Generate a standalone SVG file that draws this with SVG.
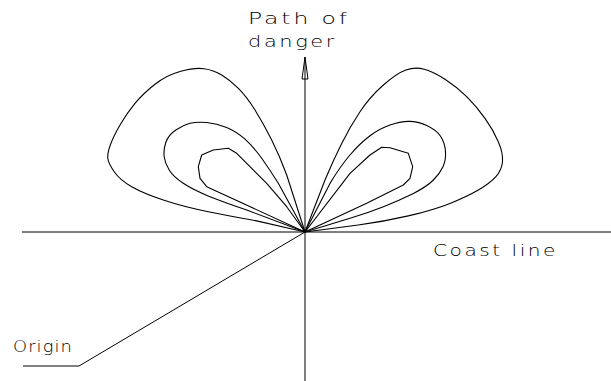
<svg xmlns="http://www.w3.org/2000/svg" width="611" height="381" viewBox="0 0 611 381">
<style>
.ln{fill:none;stroke:#000;stroke-width:1;stroke-linejoin:round;stroke-linecap:butt}
.lobe{fill:none;stroke:#000;stroke-width:1.1;stroke-linejoin:round}
.lbl{font-family:"DejaVu Sans","Liberation Sans",sans-serif;font-size:16px;fill:#000;font-weight:200;letter-spacing:2px}
</style>
<rect width="611" height="381" fill="#fff"/>
<g id="axes">
<line class="ln" x1="22" y1="232" x2="611" y2="232"/>
<line class="ln" x1="305" y1="57" x2="305" y2="381"/>
<polygon class="ln" points="305,57 302,79 308,79"/>
<polyline class="ln" points="305,232 79,366 23,366"/>
</g>
<g id="lobes-left">
<path class="lobe" d="M305,232 L256.7,220.9 Q233.3,216.7 208.3,211.7 Q183.3,206.7 163.3,200 Q143.3,193.3 131.7,186.7 Q120,180 114.2,171.7 Q108.3,163.3 107.8,158.3 Q107.3,153.3 110.3,145 Q113.3,136.7 120,125 Q126.7,113.3 135,103.3 Q143.3,93.3 155,84.2 Q166.7,75 180.9,71.2 Q195,67.3 204.2,68.7 Q213.3,70 221.7,75 Q230,80 238.4,88.4 Q246.7,96.7 255,110 Q263.3,123.3 271.7,140 Q280,156.7 286.7,175 L305,232"/>
<path class="lobe" d="M305,232 L246.7,210 Q226.7,203.3 210,196.7 Q193.3,190 183.3,183.3 Q173.3,176.7 169.2,170 Q165,163.3 164.2,156.7 Q163.3,150 165.8,142.5 Q168.3,135 175.8,130 Q183.3,125 190,123.3 Q196.7,121.7 206.7,122.5 Q216.7,123.3 226.7,127.5 Q236.7,131.7 245,139.2 Q253.3,146.7 261.7,158.3 Q270,170 278.3,183.3 L305,232"/>
<polyline class="lobe" points="305,232 206.7,186.7 200,178.3 198.3,166.7 201.7,155 213.3,150 228.3,148.3 236.7,153.3 250,166.7 266.7,183.3 286.7,206.7 305,232"/>
</g>
<g id="lobes-right">
<path class="lobe" d="M305,232 L325,180 Q333.3,160 341.7,143.4 Q350,126.7 360,111.7 Q370,96.7 383.4,85 Q396.7,73.3 405.9,70 Q415,66.7 424.2,69.2 Q433.3,71.7 445,79.2 Q456.7,86.7 466.7,96.7 Q476.7,106.7 485,118.4 Q493.3,130 498.3,141.7 Q503.3,153.3 502.5,161.7 Q501.7,170 495.9,176.7 Q490,183.3 478.4,190 Q466.7,196.7 450,203.4 Q433.3,210 408.3,215.9 Q383.3,221.7 358.3,225 L305,232"/>
<path class="lobe" d="M305,232 L330,183.4 Q340,166.7 350,155 Q360,143.3 370,135.8 Q380,128.3 390,125 Q400,121.7 408.4,121.4 Q416.7,121 426.7,125.5 Q436.7,130 440.9,136.7 Q445,143.3 445.5,151.7 Q446,160 443,166.7 Q440,173.3 433.4,180 Q426.7,186.7 413.4,193.4 Q400,200 383.4,206.7 Q366.7,213.3 350,218.3 L305,232"/>
<polyline class="lobe" points="305,232 350,173.3 370,155 381.7,147.3 390,147.7 408.3,153.3 412.7,166.7 410,178.3 403.3,185 366.7,203.3 305,232"/>
</g>
<g id="labels">
<text class="lbl" x="248" y="24" textLength="102" lengthAdjust="spacingAndGlyphs">Path of</text>
<text class="lbl" x="248" y="47" textLength="89" lengthAdjust="spacingAndGlyphs">danger</text>
<text class="lbl" x="433" y="256" textLength="125" lengthAdjust="spacingAndGlyphs">Coast line</text>
<text class="lbl" x="13" y="352" textLength="60" lengthAdjust="spacingAndGlyphs" style="letter-spacing:1px">Origin</text>
</g>
</svg>
